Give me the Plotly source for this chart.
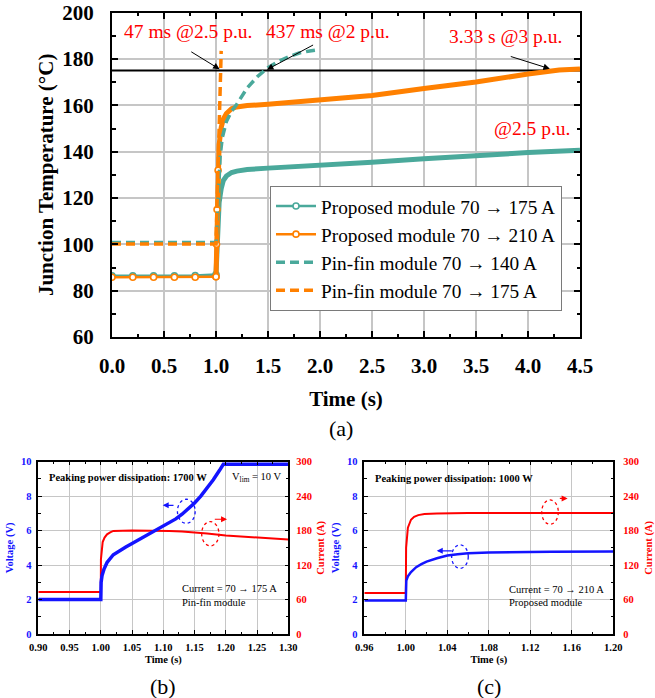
import plotly.graph_objects as go

W, H = 655, 698
FONT = "Liberation Serif"
TEAL = "#4aa99b"
ORANGE = "#ff8000"
RED = "#ff0000"
BLUE = "#1414ff"
GRID = "#c6c6c6"

# ---------------- Panel (a): junction temperature ----------------
MARK_T = [0.0, 0.2, 0.4, 0.6, 0.8, 1.0]
PROP175_PRE = [86.4, 86.4, 86.4, 86.4, 86.5, 87.0]
PROP210_PRE = [85.8, 85.8, 85.8, 85.8, 85.8, 86.0]

PROP175_T = [1.0, 1.01, 1.02, 1.03, 1.05, 1.07, 1.1, 1.15, 1.2, 1.3, 1.5, 1.8, 2.0, 2.2, 2.5, 3.0, 3.5, 4.0, 4.5]
PROP175_Y = [87.0, 100, 111, 118, 124, 127.5, 129.5, 131, 131.6, 132.3, 132.9, 133.6, 134.0, 134.4, 135.4, 137.0, 138.4, 139.6, 140.6]

PROP210_T = [1.0, 1.005, 1.01, 1.02, 1.03, 1.05, 1.07, 1.1, 1.15, 1.2, 1.3, 1.5, 1.8, 2.0, 2.2, 2.5, 3.0, 3.5, 4.0, 4.3, 4.5]
PROP210_Y = [86.0, 100, 115, 132, 143, 150.5, 154, 156.5, 158.6, 159.3, 159.9, 160.5, 161.5, 162.1, 162.9, 164.3, 167.3, 170.1, 173.5, 175.3, 175.7]

PIN140_T = [0.0, 1.0, 1.01, 1.02, 1.03, 1.04, 1.06, 1.1, 1.15, 1.2, 1.3, 1.4, 1.5, 1.6, 1.7, 1.8, 1.9, 1.98]
PIN140_Y = [100.8, 100.8, 108, 120, 130, 138, 146, 153, 157.5, 160.5, 167.5, 172.5, 176.3, 179, 181, 182.6, 183.5, 184]

PIN175_T = [0.0, 1.0, 1.01, 1.02, 1.03, 1.04, 1.047, 1.05]
PIN175_Y = [100.2, 100.2, 117, 135, 152, 166, 175, 183.5]

T_LIMIT = 175
A_XRANGE = [0, 4.5]
A_YRANGE = [60, 200]

LEGEND_NAMES = ["Proposed module 70 \u2192 175 A", "Proposed module 70 \u2192 210 A",
                "Pin-fin module 70 \u2192 140 A", "Pin-fin module 70 \u2192 175 A"]

# ---------------- Panel (b): pin-fin module 70 -> 175 A ----------------
B_V_T = [0.90, 1.000, 1.0005, 1.002, 1.005, 1.01, 1.02, 1.03, 1.04, 1.05, 1.06, 1.07, 1.08, 1.09,
         1.10, 1.11, 1.12, 1.13, 1.14, 1.15, 1.16, 1.17, 1.18, 1.19, 1.196, 1.25, 1.30]
B_V = [2.0, 2.0, 3.0, 3.4, 3.75, 4.15, 4.6, 4.85, 5.05, 5.25, 5.45, 5.65, 5.85, 6.05,
       6.25, 6.45, 6.68, 6.95, 7.25, 7.6, 8.0, 8.45, 8.95, 9.5, 9.85, 9.85, 9.85]
B_I_T = [0.90, 1.0, 1.0002, 1.003, 1.006, 1.01, 1.015, 1.02, 1.05, 1.09, 1.11, 1.13, 1.15,
         1.17, 1.2, 1.25, 1.3]
B_I = [73, 73, 130, 160, 168, 173.5, 177, 179.5, 180, 180, 179.5, 178.5, 177, 175, 171.5, 168, 164.5]

# ---------------- Panel (c): proposed module 70 -> 210 A ----------------
C_V_T = [0.96, 1.0, 1.0005, 1.002, 1.005, 1.01, 1.015, 1.02, 1.03, 1.04, 1.05, 1.06, 1.08, 1.10, 1.14, 1.20]
C_V = [1.95, 1.95, 3.1, 3.35, 3.6, 3.88, 4.05, 4.2, 4.4, 4.55, 4.63, 4.68, 4.73, 4.76, 4.78, 4.79]
C_I_T = [0.96, 1.0, 1.0003, 1.002, 1.005, 1.008, 1.012, 1.018, 1.03, 1.06, 1.20]
C_I = [71.5, 71.5, 150, 185, 199, 204, 207, 209, 210, 210.5, 210.5]


def px(x):
    return x / W


def py(y):
    return 1 - y / H


fig = go.Figure()

# --- panel (a) traces ---
fig.add_trace(go.Scatter(x=A_XRANGE, y=[T_LIMIT, T_LIMIT], mode="lines",
                         line=dict(color="black", width=2), showlegend=False, hoverinfo="skip"))
mk = dict(symbol="circle", size=6, color="white", line=dict(width=1.6))
fig.add_trace(go.Scatter(x=MARK_T, y=PROP175_PRE, mode="lines+markers", showlegend=False,
                         line=dict(color=TEAL, width=2.5),
                         marker=dict(mk, line=dict(color=TEAL, width=1.6))))
fig.add_trace(go.Scatter(x=PROP175_T, y=PROP175_Y, mode="lines", showlegend=False,
                         line=dict(color=TEAL, width=5)))
fig.add_trace(go.Scatter(x=MARK_T, y=PROP210_PRE, mode="lines+markers", showlegend=False,
                         line=dict(color=ORANGE, width=2.5),
                         marker=dict(mk, line=dict(color=ORANGE, width=1.6))))
fig.add_trace(go.Scatter(x=PROP210_T, y=PROP210_Y, mode="lines", showlegend=False,
                         line=dict(color=ORANGE, width=5)))
fig.add_trace(go.Scatter(x=PROP210_T[:4], y=PROP210_Y[:4], mode="markers", showlegend=False,
                         marker=dict(mk, line=dict(color=ORANGE, width=1.6))))
fig.add_trace(go.Scatter(x=PIN140_T, y=PIN140_Y, mode="lines", showlegend=False,
                         line=dict(color=TEAL, width=3.5, dash="9px,5px")))
fig.add_trace(go.Scatter(x=PIN175_T, y=PIN175_Y, mode="lines", showlegend=False,
                         line=dict(color=ORANGE, width=3.5, dash="9px,5px")))

# legend entries
fig.add_trace(go.Scatter(x=[None], y=[None], mode="lines+markers", name=LEGEND_NAMES[0],
                         line=dict(color=TEAL, width=2.5), marker=dict(mk, line=dict(color=TEAL, width=1.6))))
fig.add_trace(go.Scatter(x=[None], y=[None], mode="lines+markers", name=LEGEND_NAMES[1],
                         line=dict(color=ORANGE, width=2.5), marker=dict(mk, line=dict(color=ORANGE, width=1.6))))
fig.add_trace(go.Scatter(x=[None], y=[None], mode="lines", name=LEGEND_NAMES[2],
                         line=dict(color=TEAL, width=3.5, dash="9px,5px")))
fig.add_trace(go.Scatter(x=[None], y=[None], mode="lines", name=LEGEND_NAMES[3],
                         line=dict(color=ORANGE, width=3.5, dash="9px,5px")))

# --- panel (b) traces: current on base y2 (right), voltage on overlay y3 (left) ---
fig.add_trace(go.Scatter(x=B_I_T, y=B_I, mode="lines", xaxis="x2", yaxis="y2", showlegend=False,
                         line=dict(color=RED, width=2)))
fig.add_trace(go.Scatter(x=B_V_T, y=B_V, mode="lines", xaxis="x2", yaxis="y3", showlegend=False,
                         line=dict(color=BLUE, width=3.5)))
# --- panel (c) traces ---
fig.add_trace(go.Scatter(x=C_I_T, y=C_I, mode="lines", xaxis="x3", yaxis="y4", showlegend=False,
                         line=dict(color=RED, width=2)))
fig.add_trace(go.Scatter(x=C_V_T, y=C_V, mode="lines", xaxis="x3", yaxis="y5", showlegend=False,
                         line=dict(color=BLUE, width=2.5)))

big_tick = dict(family=FONT, size=21, color="black", weight="bold")
big_title = dict(family=FONT, size=21, color="black", weight="bold")

common_a = dict(showline=True, linecolor="black", linewidth=2, mirror="ticks", ticks="inside",
                ticklen=6, tickwidth=1.5, tickcolor="black", showgrid=True, gridcolor=GRID,
                gridwidth=1.5, zeroline=False, tickfont=big_tick, automargin=False)


def small_x(rng, dt, minor_dt, domain, anchor):
    return dict(domain=domain, range=rng, dtick=dt, tick0=rng[0], tickformat=".2f", anchor=anchor,
                showline=True, linecolor="black", linewidth=1.5, mirror="ticks",
                ticks="inside", ticklen=4, tickwidth=1, tickcolor="black", automargin=False,
                minor=dict(ticks="inside", dtick=minor_dt, ticklen=2.5, tickcolor="black", showgrid=False),
                showgrid=True, gridcolor=GRID, gridwidth=1, zeroline=False,
                tickfont=dict(family=FONT, size=10.5, color="black", weight="bold"),
                ticklabelstandoff=3,
                title=dict(text="Time (s)", font=dict(family=FONT, size=10.5, color="black", weight="bold"),
                           standoff=3))


def small_y(rng, dt, minor_dt, side, color, title, domain=None, overlay=None, anchor=None, grid=False,
            lab_off=3, title_off=5):
    d = dict(range=rng, dtick=dt, anchor=anchor, side=side,
             showline=True, linecolor="black", linewidth=1.5, ticks="inside", ticklen=4,
             tickcolor="black", automargin=False,
             minor=dict(ticks="inside", dtick=minor_dt, ticklen=2.5, tickcolor="black", showgrid=False),
             showgrid=grid, gridcolor=GRID, zeroline=False, ticklabelstandoff=lab_off,
             tickfont=dict(family=FONT, size=10.5, color=color, weight="bold"),
             title=dict(text=title, font=dict(family=FONT, size=10.5, color=color, weight="bold"),
                        standoff=title_off))
    if domain is not None:
        d["domain"] = domain
    if overlay is not None:
        d["overlaying"] = overlay
    return d


BOT_DOM = [py(634), py(461.7)]

fig.update_layout(
    width=W, height=H, margin=dict(l=0, r=0, t=0, b=0, autoexpand=False),
    paper_bgcolor="white", plot_bgcolor="white",
    font=dict(family=FONT, color="black"),
    xaxis=dict(common_a, domain=[px(112), px(580)], range=A_XRANGE, dtick=0.5, tickformat=".1f",
               anchor="y", ticklabelstandoff=9,
               minor=dict(ticks="inside", dtick=0.25, ticklen=3.5, tickcolor="black", showgrid=False),
               title=dict(text="Time (s)", font=big_title, standoff=14)),
    yaxis=dict(common_a, domain=[py(337), py(12.7)], range=A_YRANGE, dtick=20, anchor="x",
               ticklabelstandoff=12,
               minor=dict(ticks="inside", dtick=10, ticklen=3.5, tickcolor="black", showgrid=False),
               title=dict(text="Junction Temperature (\u00b0C)", font=big_title, standoff=3)),
    xaxis2=small_x([0.9, 1.3], 0.05, 0.025, [px(38.3), px(288.3)], "y2"),
    yaxis2=small_y([0, 300], 60, 30, "right", RED, "Current (A)", domain=BOT_DOM, anchor="x2", grid=True,
                   lab_off=4, title_off=6),
    yaxis3=small_y([0, 10], 2, 1, "left", BLUE, "Voltage (V)", overlay="y2", anchor="x2"),
    xaxis3=small_x([0.96, 1.20], 0.04, 0.02, [px(364.3), px(613.3)], "y4"),
    yaxis4=small_y([0, 300], 60, 30, "right", RED, "Current (A)", domain=BOT_DOM, anchor="x3", grid=True,
                   lab_off=6, title_off=8),
    yaxis5=small_y([0, 10], 2, 1, "left", BLUE, "Voltage (V)", overlay="y4", anchor="x3"),
    legend=dict(x=px(270), y=py(186), xanchor="left", yanchor="top",
                bgcolor="white", bordercolor="#7a7a7a", borderwidth=1,
                font=dict(family=FONT, size=19.3, color="black"), itemwidth=40,
                tracegroupgap=0),
)

red_font = dict(family=FONT, size=19.5, color=RED)
ann = []
ann.append(dict(x=0.726, y=191.7, xref="x", yref="y", text="47 ms @2.5 p.u.", showarrow=False, font=red_font))
ann.append(dict(x=2.08, y=191.7, xref="x", yref="y", text="437 ms @2 p.u.", showarrow=False, font=red_font))
ann.append(dict(x=3.78, y=189.7, xref="x", yref="y", text="3.33 s @3 p.u.", showarrow=False, font=red_font))
ann.append(dict(x=4.04, y=150.1, xref="x", yref="y", text="@2.5 p.u.", showarrow=False, font=red_font))
for (x0, y0, x1, y1) in [(0.748, 183.5, 1.035, 175.6), (1.948, 186.4, 1.49, 175.4), (3.82, 181.3, 4.21, 175.8)]:
    ann.append(dict(x=x1, y=y1, ax=x0, ay=y0, xref="x", yref="y", axref="x", ayref="y", text="",
                    showarrow=True, arrowhead=2, arrowsize=1.3, arrowwidth=1, arrowcolor="black"))


def paper_text(x, y, text, font, xanchor="center"):
    return dict(x=px(x), y=py(y), xref="paper", yref="paper", text=text, showarrow=False,
                font=font, xanchor=xanchor, yanchor="middle")


lab_font = dict(family=FONT, size=22, color="black")
ann.append(paper_text(341, 428, "(a)", lab_font))
ann.append(paper_text(163, 686, "(b)", lab_font))
ann.append(paper_text(489, 686, "(c)", lab_font))

bold_small = dict(family=FONT, size=10.5, color="black", weight="bold")
reg_small = dict(family=FONT, size=10.5, color="black")
ann.append(paper_text(46.7, 477.3, "Peaking power dissipation: 1700 W", bold_small, "left"))
ann.append(paper_text(230, 477.3, "V<sub>lim</sub> = 10 V", reg_small, "left"))
ann.append(paper_text(180, 588.5, "Current = 70 \u2192 175 A", reg_small, "left"))
ann.append(paper_text(180, 602.5, "Pin-fin module", reg_small, "left"))
ann.append(paper_text(373.3, 478, "Peaking power dissipation: 1000 W", bold_small, "left"))
ann.append(paper_text(506.7, 589, "Current = 70 \u2192 210 A", reg_small, "left"))
ann.append(paper_text(506.7, 602.5, "Proposed module", reg_small, "left"))

arrows_small = [
    ("x2", "y3", 1.1187, 7.47, 1.099, 7.47, BLUE),
    ("x2", "y3", 1.180, 6.66, 1.202, 6.66, RED),
    ("x3", "y5", 1.0458, 4.83, 1.0298, 4.83, BLUE),
    ("x3", "y5", 1.147, 7.87, 1.156, 7.87, RED),
]
for xr, yr, x0, y0, x1, y1, c in arrows_small:
    ann.append(dict(x=x1, y=y1, ax=x0, ay=y0, xref=xr, yref=yr, axref=xr, ayref=yr, text="",
                    showarrow=True, arrowhead=2, arrowsize=1, arrowwidth=1.2, arrowcolor=c))

fig.update_layout(annotations=ann)

ellipses = [
    ("x2", "y3", 1.1226, 6.42, 1.151, 7.82, BLUE),
    ("x2", "y3", 1.1614, 5.11, 1.189, 6.52, RED),
    ("x3", "y5", 1.0442, 3.81, 1.0602, 5.17, BLUE),
    ("x3", "y5", 1.131, 6.37, 1.147, 7.78, RED),
]
for xr, yr, x0, y0, x1, y1, c in ellipses:
    fig.add_shape(type="circle", xref=xr, yref=yr, x0=x0, y0=y0, x1=x1, y1=y1,
                  line=dict(color=c, width=1.3, dash="dot"))

fig.write_html("out.html")
